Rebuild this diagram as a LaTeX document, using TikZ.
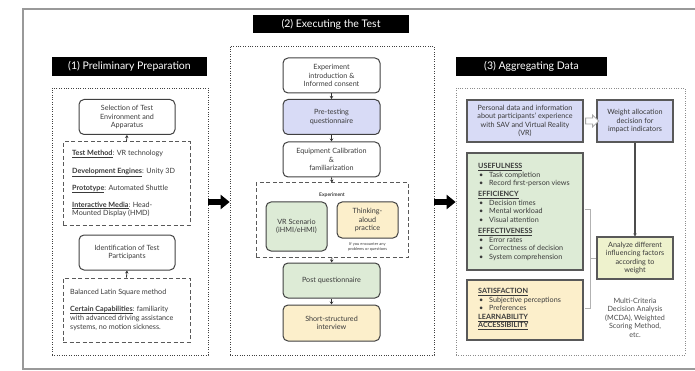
\documentclass[tikz,border=0pt]{standalone}
\usepackage{fontspec}
\setmainfont{Lato}
\usetikzlibrary{arrows.meta,calc}
\definecolor{cblue}{HTML}{D8DBF6}
\definecolor{cgreen}{HTML}{DDEBD6}
\definecolor{cyellow}{HTML}{FCEFCB}
\definecolor{clime}{HTML}{EEF2CD}
\definecolor{ctext}{HTML}{3A3A3A}
\newcommand{\fsn}{\fontsize{7.2}{8.5}\selectfont}
\newcommand{\bul}{\hspace*{1pt}\makebox[10pt][l]{•}}
\newcommand{\hd}[1]{\underline{\textbf{#1}}}
\begin{document}
\begin{tikzpicture}[x=1pt,y=-1pt,
  every node/.style={text=ctext, font=\fsn, inner sep=0pt},
  titlebar/.style={fill=black, text=white, font=\fontsize{10.5}{12}\selectfont, minimum height=19pt},
  rbox/.style={draw=black!75, line width=1pt, rounded corners=5pt, align=center, minimum width=96pt, minimum height=35pt},
  sbox/.style={draw=black!65, line width=1.2pt, align=center},
  dotbox/.style={draw=black!75, line width=0.7pt, dash pattern=on 1pt off 1.4pt},
  dashbox/.style={draw=black!65, line width=1pt, dash pattern=on 4pt off 2.5pt},
  smallarrow/.style={draw=black!80, line width=0.8pt, -{Stealth[length=3pt,width=3.5pt]}},
  bigarrow/.style={draw=black, line width=6pt, -{Triangle[length=9pt,width=14pt]}},
  lbl/.style={anchor=west, align=left}
]
\useasboundingbox (0,0) rectangle (695,371);
% outer frame
\draw[black!40, line width=1.5pt] (700,9) -- (23,9) -- (23,369) -- (700,369);
\coordinate (ay) at (0,202);

% ===== Section 1 =====
\node[titlebar, minimum width=155pt] (title1) at (129.5,66.5) {(1) Preliminary Preparation};
\node[dotbox, minimum width=156pt, minimum height=267pt] (p1) at (130,221.5) {};
\node[rbox] (sel) at (127,117) {Selection of Test\\Environment and\\Apparatus};
\node[dashbox, minimum width=127pt, minimum height=83pt] (d1) at (126.5,183.5) {};
\node[lbl] (t1) at (72,154) {\hd{Test Method}: VR technology};
\node[lbl] (t2) at (72,172) {\hd{Development Engines}: Unity 3D};
\node[lbl] (t3) at (72,189) {\hd{Prototype}: Automated Shuttle};
\node[lbl] (t4) at (72,209.25) {\hd{Interactive Media}: Head-\\Mounted Display (HMD)};
\node[rbox] (ident) at (127,252.5) {Identification of Test\\Participants};
\node[dashbox, minimum width=127pt, minimum height=64pt] (d2) at (126.5,310) {};
\node[lbl] (t5) at (70,292) {Balanced Latin Square method};
\node[lbl] (t6) at (70,318) {\hd{Certain Capabilities}: familiarity\\with advanced driving assistance\\systems, no motion sickness.};
\draw[smallarrow] (d1.north) -- (sel.south);
\draw[smallarrow] (d2.north) -- (ident.south);

% ===== Section 2 =====
\node[titlebar, minimum width=156pt, minimum height=18pt] (title2) at (331,24) {(2) Executing the Test};
\node[dotbox, minimum width=204pt, minimum height=309pt] (p2) at (332,200.5) {};
\node[rbox, minimum width=97pt] (intro) at (331.5,75.5) {Experiment\\introduction \&\\Informed consent};
\node[rbox, minimum width=97pt, fill=cblue] (pre) at (331.5,117) {Pre-testing\\questionnaire};
\node[rbox, minimum width=97pt] (equip) at (331.5,159.5) {Equipment Calibration\\\&\\familiarization};
\node[dashbox, minimum width=152pt, minimum height=74pt] (expb) at (332,220) {};
\node[font=\fontsize{5}{6}\selectfont\bfseries] (explbl) at (332,195) {Experiment};
\node[rbox, minimum width=61pt, minimum height=49pt, fill=cgreen] (vr) at (296.5,226.5) {VR Scenario\\(iHMI/eHMI)};
\node[rbox, minimum width=61pt, minimum height=36pt, fill=cyellow] (think) at (367.5,220) {Thinking-\\aloud\\practice};
\node[font=\fontsize{4}{4.8}\selectfont, align=center] (note) at (367.5,246.5) {If you encounter any\\problems or questions};
\node[rbox, minimum width=97pt, fill=cgreen] (post) at (331.5,280.5) {Post questionnaire};
\node[rbox, minimum width=97pt, minimum height=36pt, fill=cyellow] (inter) at (331.5,323) {Short-structured\\interview};
\draw[smallarrow] (intro.south) -- (pre.north);
\draw[smallarrow] (pre.south) -- (equip.north);
\draw[smallarrow] (equip.south) -- (expb.north);
\draw[smallarrow] (expb.south) -- (post.north);
\draw[smallarrow] (post.south) -- (inter.north);

% ===== Section 3 =====
\node[titlebar, minimum width=151pt] (title3) at (531.5,66.5) {(3) Aggregating Data};
\node[dotbox, draw=black!45, minimum width=229pt, minimum height=267pt] (p3) at (570.5,221.5) {};
\node[sbox, fill=cblue, minimum width=116pt, minimum height=42pt] (pers) at (525,121) {Personal data and information\\about participants' experience\\with SAV and Virtual Reality\\(VR)};
\node[sbox, fill=cblue, minimum width=76pt, minimum height=42pt] (weight) at (635,121) {Weight allocation\\decision for\\impact indicators};
\node[sbox, fill=cgreen, minimum width=116pt, minimum height=117pt] (green) at (525,211.5) {};
\node[anchor=north west, align=left] (gtext) at (478,163.5) {\hd{USEFULNESS}\\
\bul Task completion\\
\bul Record first-person views\\[2.5pt]
\hd{EFFICIENCY}\\
\bul Decision times\\
\bul Mental workload\\
\bul Visual attention\\[3pt]
\hd{EFFECTIVENESS}\\
\bul Error rates\\
\bul Correctness of decision\\
\bul System comprehension};
\node[sbox, fill=cyellow, minimum width=116pt, minimum height=60pt] (yellow) at (525,310) {};
\node[anchor=north west, align=left] (ytext) at (478,288.5) {\hd{SATISFACTION}\\
\bul Subjective perceptions\\
\bul Preferences\\
\hd{LEARNABILITY}\\
\hd{ACCESSIBILITY}};
\node[sbox, fill=clime, minimum width=76pt, minimum height=42pt] (anal) at (635,258) {Analyze different\\influencing factors\\according to\\weight};
\node[align=center, text=black!70] (mcda) at (635,317.5) {Multi-Criteria\\Decision Analysis\\(MCDA), Weighted\\Scoring Method,\\etc.};
\draw[draw=black!70, line width=1.2pt, -{Stealth[length=3pt,width=3.5pt]}] (weight.south) -- (anal.north);
% bracket
\draw[black!30, line width=0.8pt] ($(green.east)+(1,-2.5)$) -- ++(6,0) coordinate (bt) -- (bt |- 0,308) -- ++(-6,0);
\draw[black!30, line width=0.8pt] (bt |- anal.west) -- (anal.west);
% hollow arrow
\draw[black!35, fill=white, line width=0.8pt] ($(pers.east)+(2,-3)$) -- ++(7,0) -- ++(0,-3) -- ++(6,6) -- ++(-6,6) -- ++(0,-3) -- ++(-7,0) -- cycle;

% big arrows
\draw[bigarrow] (p1.east |- ay) -- (p2.west |- ay);
\draw[bigarrow] (p2.east |- ay) -- (p3.west |- ay);
\end{tikzpicture}
\end{document}
